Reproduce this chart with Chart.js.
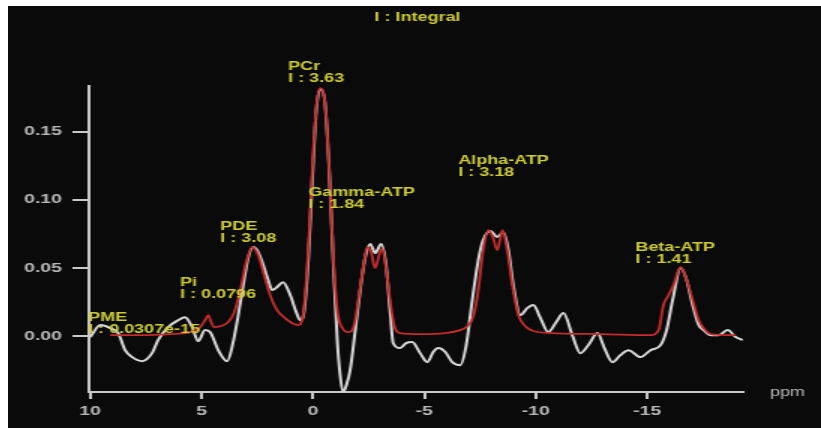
<!DOCTYPE html>
<html>
<head>
<meta charset="utf-8">
<script src="https://cdn.jsdelivr.net/npm/chart.js@4.4.0/dist/chart.umd.min.js"></script>
<style>
  body { margin: 0; background: #fff; }
  #wrap { position: absolute; left: 8px; top: 6px; width: 813px; height: 422px; background: #0a0a0a; overflow: hidden; }
</style>
</head>
<body>
<div id="wrap"><canvas id="spec" width="542" height="422" style="display:block;width:813px;height:422px"></canvas></div>
<script>
// measured spectrum (white)
const whitePpm = [9.99, 9.54, 9.09, 8.74, 8.43, 8.11, 7.67, 7.22, 6.95, 6.50,
  6.05, 5.74, 5.42, 5.15, 4.84, 4.61, 4.25, 3.85, 3.58, 3.35,
  3.13, 2.91, 2.68, 2.46, 2.23, 2.01, 1.83, 1.61, 1.34, 1.02,
  0.75, 0.57, 0.39, 0.21, 0.03, -0.15, -0.37, -0.55, -0.73, -0.91,
  -1.09, -1.22, -1.36, -1.50, -1.67, -1.90, -2.12, -2.34, -2.57, -2.79,
  -3.06, -3.28, -3.46, -3.60, -3.91, -4.18, -4.45, -4.81, -5.13, -5.40,
  -5.62, -5.94, -6.25, -6.61, -6.88, -7.15, -7.42, -7.64, -7.96, -8.27,
  -8.54, -8.77, -8.99, -9.31, -9.62, -9.89, -10.21, -10.56, -10.92, -11.24,
  -11.64, -12.00, -12.36, -12.77, -13.08, -13.44, -13.80, -14.16, -14.70, -15.15,
  -15.60, -15.87, -16.14, -16.50, -16.77, -17.04, -17.31, -17.53, -17.85, -18.21,
  -18.61, -18.97, -19.28];
const whiteVal = [-0.0007, 0.0081, 0.0059, 0.0022, -0.0103, -0.0154, -0.0184, -0.0125, -0.0029, 0.0066,
  0.0117, 0.0139, 0.0066, -0.0037, 0.0044, 0.0029, -0.0103, -0.0184, -0.0044, 0.0154,
  0.0374, 0.0573, 0.0653, 0.0617, 0.0521, 0.0411, 0.0338, 0.0360, 0.0396, 0.0301,
  0.0176, 0.0117, 0.0191, 0.0558, 0.1145, 0.1659, 0.1813, 0.1696, 0.1218, 0.0558,
  -0.0029, -0.0286, -0.0411, -0.0360, -0.0250, 0.0044, 0.0338, 0.0573, 0.0675, 0.0609,
  0.0675, 0.0521, 0.0191, -0.0051, -0.0088, -0.0051, -0.0044, -0.0125, -0.0191, -0.0117,
  -0.0088, -0.0117, -0.0191, -0.0213, -0.0066, 0.0264, 0.0558, 0.0705, 0.0771, 0.0727,
  0.0763, 0.0631, 0.0374, 0.0154, 0.0206, 0.0228, 0.0132, 0.0029, 0.0103, 0.0169,
  0.0007, -0.0125, -0.0066, 0.0022, -0.0088, -0.0191, -0.0139, -0.0103, -0.0154, -0.0103,
  -0.0066, 0.0044, 0.0264, 0.0499, 0.0411, 0.0228, 0.0081, 0.0044, 0.0007, 0.0007,
  0.0044, -0.0007, -0.0029];

// fitted spectrum (red)
const fitPpm = [9.10, 7.75, 6.41, 5.51, 5.06, 4.84, 4.70, 4.57, 4.43, 4.16,
  3.80, 3.53, 3.26, 2.99, 2.72, 2.46, 2.19, 1.92, 1.61, 1.25,
  0.93, 0.66, 0.44, 0.21, 0.03, -0.15, -0.33, -0.55, -0.73, -0.91,
  -1.09, -1.32, -1.58, -1.85, -2.07, -2.30, -2.43, -2.61, -2.79, -2.97,
  -3.11, -3.28, -3.46, -3.64, -3.91, -4.81, -5.94, -6.61, -6.93, -7.20,
  -7.42, -7.64, -7.87, -8.09, -8.27, -8.41, -8.50, -8.72, -8.95, -9.22,
  -9.53, -9.89, -10.65, -12.89, -15.15, -15.51, -15.73, -15.96, -16.18, -16.50,
  -16.77, -17.04, -17.31, -17.53, -17.85, -18.97];
const fitVal = [0.0007, 0.0007, 0.0015, 0.0029, 0.0066, 0.0117, 0.0154, 0.0103, 0.0066, 0.0073,
  0.0103, 0.0176, 0.0338, 0.0543, 0.0653, 0.0595, 0.0448, 0.0301, 0.0191, 0.0132,
  0.0095, 0.0081, 0.0154, 0.0631, 0.1218, 0.1674, 0.1820, 0.1696, 0.1218, 0.0595,
  0.0191, 0.0059, 0.0029, 0.0081, 0.0301, 0.0543, 0.0653, 0.0617, 0.0499, 0.0595,
  0.0646, 0.0499, 0.0264, 0.0081, 0.0022, 0.0015, 0.0022, 0.0044, 0.0073, 0.0147,
  0.0338, 0.0631, 0.0778, 0.0719, 0.0631, 0.0719, 0.0778, 0.0631, 0.0374, 0.0154,
  0.0073, 0.0037, 0.0022, 0.0015, 0.0007, 0.0044, 0.0228, 0.0301, 0.0374, 0.0507,
  0.0411, 0.0264, 0.0117, 0.0059, 0.0015, 0.0007];

// peak annotations
const peakNames = ['PME', 'Pi', 'PDE', 'PCr', 'Gamma-ATP', 'Alpha-ATP', 'Beta-ATP'];
const peakIntegrals = ['0.0307e-15', '0.0796', '3.08', '3.63', '1.84', '3.18', '1.41'];
const labelPpm = [10.09, 5.96, 4.16, 1.11, 0.21, -6.52, -14.47];
const labelVal = [0.0132, 0.0389, 0.0800, 0.1975, 0.1050, 0.1285, 0.0646];

const xTicks = [10, 5, 0, -5, -10, -15];
const yTicks = [0, 0.05, 0.10, 0.15];

const axisColor = 'rgb(200,200,200)';
const tickColor = 'rgb(185,185,185)';
const yellow = 'rgb(205,205,55)';
const fontFamily = '"Liberation Sans", Arial, sans-serif';

// text drawn on top: title, axis unit, peak labels
const textPlugin = {
  id: 'spectrumText',
  afterDraw(chart) {
    const ctx = chart.ctx;
    const x = chart.scales.x, y = chart.scales.y;
    ctx.save();
    ctx.textBaseline = 'middle';
    ctx.fillStyle = yellow;
    ctx.font = 'bold 12px ' + fontFamily;
    ctx.textAlign = 'center';
    ctx.fillText('I : Integral', 273, 12);

    ctx.textAlign = 'left';
    peakNames.forEach((name, i) => {
      const px = x.getPixelForValue(labelPpm[i]);
      const py = y.getPixelForValue(labelVal[i]);
      ctx.fillText(name, px, py);
      ctx.fillText('I : ' + peakIntegrals[i], px, py + 12);
    });

    ctx.fillStyle = tickColor;
    ctx.font = '12px ' + fontFamily;
    ctx.fillText('ppm', chart.chartArea.right + 18, chart.chartArea.bottom + 1);
    ctx.restore();
  }
};

const canvas = document.getElementById('spec');
const ctx = canvas.getContext('2d');
new Chart(ctx, {
  type: 'line',
  data: {
    datasets: [
      {
        label: 'fit',
        data: fitPpm.map((p, i) => ({ x: p, y: fitVal[i] })),
        borderColor: 'rgb(195,45,45)',
        borderWidth: 1.8,
        pointRadius: 0,
        cubicInterpolationMode: 'monotone'
      },
      {
        label: 'spectrum',
        data: whitePpm.map((p, i) => ({ x: p, y: whiteVal[i] })),
        borderColor: 'rgb(215,215,215)',
        borderWidth: 2,
        pointRadius: 0,
        cubicInterpolationMode: 'monotone'
      }
    ]
  },
  options: {
    responsive: false,
    animation: false,
    devicePixelRatio: 1,
    layout: { padding: { top: 80, right: 52, bottom: 0, left: 0 } },
    plugins: {
      legend: { display: false },
      tooltip: { enabled: false },
      title: { display: false }
    },
    scales: {
      x: {
        type: 'linear',
        reverse: true,
        min: -19.3,
        max: 10.05,
        afterBuildTicks: s => { s.ticks = xTicks.map(v => ({ value: v })); },
        afterFit: s => { s.height = 36; },
        border: { display: true, color: axisColor, width: 2 },
        grid: { drawOnChartArea: false, drawTicks: true, tickLength: 7, color: axisColor, lineWidth: 2 },
        ticks: {
          color: tickColor,
          padding: 5,
          maxRotation: 0,
          font: { family: fontFamily, size: 13, weight: 'bold' },
          callback: v => String(v)
        }
      },
      y: {
        min: -0.041,
        max: 0.1835,
        afterBuildTicks: s => { s.ticks = yTicks.map(v => ({ value: v })); },
        afterFit: s => { s.width = 54; },
        border: { display: true, color: axisColor, width: 2 },
        grid: { drawOnChartArea: false, drawTicks: true, tickLength: 11, color: axisColor, lineWidth: 2 },
        ticks: {
          color: tickColor,
          padding: 7,
          font: { family: fontFamily, size: 13, weight: 'bold' },
          callback: v => v.toFixed(2)
        }
      }
    }
  },
  plugins: [textPlugin]
});
// stretch the drawing horizontally like the original capture
canvas.style.width = '813px';
canvas.style.height = '422px';
</script>
</body>
</html>
